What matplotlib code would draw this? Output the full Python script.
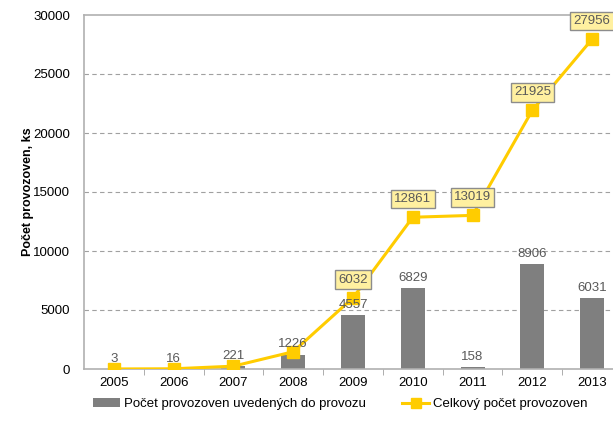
import numpy as np
import matplotlib
matplotlib.use('Agg')
import matplotlib.pyplot as plt
from matplotlib.ticker import FixedLocator

# Data
years = ['2005', '2006', '2007', '2008', '2009', '2010', '2011', '2012', '2013']
uvedene = [3, 16, 221, 1226, 4557, 6829, 158, 8906, 6031]
celkem = [3, 19, 240, 1466, 6032, 12861, 13019, 21925, 27956]
boxed_from = 4  # line labels shown only from 2009 on

plt.rcParams['font.family'] = ['Liberation Sans', 'DejaVu Sans']

fig = plt.figure(figsize=(6.13, 4.22), dpi=100)
ax = fig.add_axes([84 / 613, 1 - 369 / 422, 538 / 613, 354 / 422])

x = np.arange(len(years))
bars = ax.bar(x, uvedene, width=0.4, color='#7f7f7f', zorder=2,
              label='Počet provozoven uvedených do provozu')
line, = ax.plot(x, celkem, color='#ffcc00', lw=2.2, marker='s', ms=8.5, zorder=3,
                label='Celkový počet provozoven')

# bar value labels
for xi, v in zip(x, uvedene):
    ax.annotate(str(v), (xi, v), xytext=(0, 3), textcoords='offset points',
                ha='center', va='bottom', fontsize=9.5, color='#595959', zorder=4)

# boxed labels for the cumulative line
for xi, v in zip(x[boxed_from:], celkem[boxed_from:]):
    ax.annotate(str(v), (xi, v), xytext=(0, 13), textcoords='offset points',
                ha='center', va='center', fontsize=9.5, color='#595959', zorder=5,
                bbox=dict(boxstyle='square,pad=0.25', fc='#fff0a0', ec='#8c8c8c', lw=1))

ax.set_xlim(-0.5, len(years) - 0.5)
ax.set_ylim(0, 30000)
ax.set_yticks(np.arange(0, 30001, 5000))
ax.set_xticks(x)
ax.set_xticklabels(years)
ax.xaxis.set_minor_locator(FixedLocator(np.arange(0.5, len(years) - 0.5, 1)))
ax.tick_params(axis='x', which='major', length=0, labelsize=9.5, pad=6)
ax.tick_params(axis='x', which='minor', length=4, color='#a0a0a0', direction='out')
ax.tick_params(axis='y', length=0, labelsize=9.5, pad=10)

for y in np.arange(5000, 30000, 5000):
    ax.axhline(y, color='#a0a0a0', lw=0.8, ls=(0, (4, 3)), zorder=1)

ax.spines['right'].set_visible(False)
for side in ['left', 'bottom', 'top']:
    ax.spines[side].set_color('#b0b0b0')
    ax.spines[side].set_linewidth(1.2)

ax.set_ylabel('Počet provozoven, ks', fontsize=9, fontweight='bold', labelpad=-1)

fig.legend(handles=[bars, line], loc='lower center', bbox_to_anchor=(0.555, 0.0),
           ncol=2, frameon=False, fontsize=9.5, handlelength=2.0, columnspacing=2.8,
           handletextpad=0.3, markerscale=0.8)

fig.savefig('out.png', dpi=100)
